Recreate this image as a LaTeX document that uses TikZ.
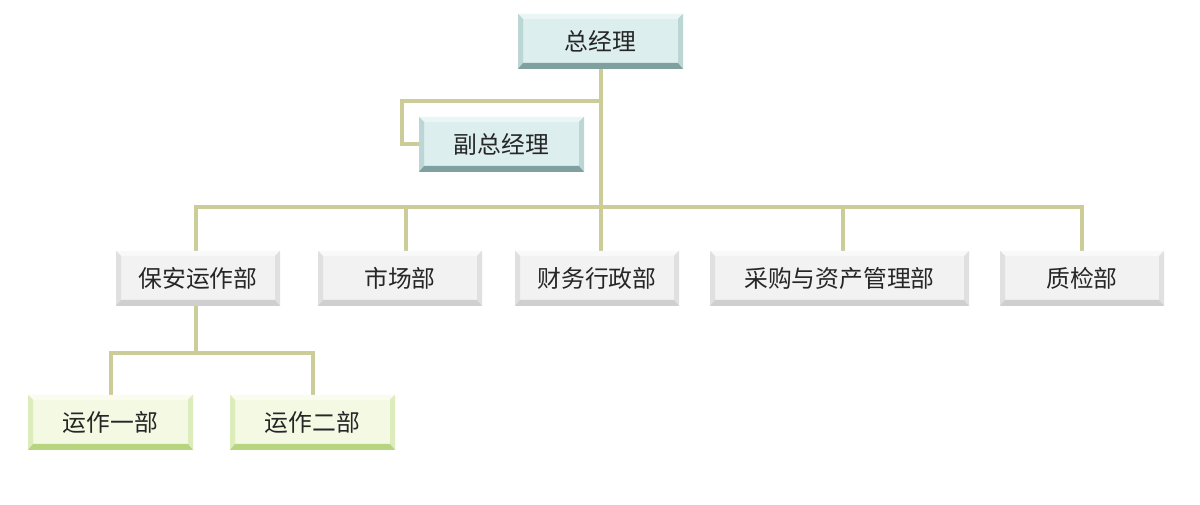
\documentclass[tikz,border=0pt]{standalone}
\usepackage{fontspec}
\setmainfont{Noto Sans CJK SC}
\usetikzlibrary{backgrounds}
\definecolor{conncol}{HTML}{CCCC99}
\definecolor{txtcol}{HTML}{262626}
\definecolor{tfill}{HTML}{DCEEEE}\definecolor{ttop}{HTML}{EAF5F5}\definecolor{tside}{HTML}{BCD6D6}\definecolor{tbot}{HTML}{80A0A0}
\definecolor{gfill}{HTML}{F2F2F2}\definecolor{gtop}{HTML}{F9F9F9}\definecolor{gside}{HTML}{E0E0E0}\definecolor{gbot}{HTML}{CFCFCF}
\definecolor{lfill}{HTML}{F4F9E4}\definecolor{ltop}{HTML}{FAFCF0}\definecolor{lside}{HTML}{DCECBA}\definecolor{lbot}{HTML}{B7D47F}
\tikzset{
  bev/.style n args={4}{fill=#1, minimum height=55pt, inner sep=0pt, text=txtcol,
    font=\fontsize{23.8}{28}\selectfont,
    path picture={
      \fill[#2] (path picture bounding box.north west) -- (path picture bounding box.north east)
        -- ([shift={(-5pt,-5pt)}]path picture bounding box.north east) -- ([shift={(5pt,-5pt)}]path picture bounding box.north west) -- cycle;
      \fill[#3] (path picture bounding box.north west) -- ([shift={(5pt,-5pt)}]path picture bounding box.north west)
        -- ([shift={(5pt,6pt)}]path picture bounding box.south west) -- (path picture bounding box.south west) -- cycle;
      \fill[#3] (path picture bounding box.north east) -- ([shift={(-5pt,-5pt)}]path picture bounding box.north east)
        -- ([shift={(-5pt,6pt)}]path picture bounding box.south east) -- (path picture bounding box.south east) -- cycle;
      \fill[#4] (path picture bounding box.south west) -- ([shift={(5pt,6pt)}]path picture bounding box.south west)
        -- ([shift={(-5pt,6pt)}]path picture bounding box.south east) -- (path picture bounding box.south east) -- cycle;
    }},
  tealbox/.style={bev={tfill}{ttop}{tside}{tbot}, minimum width=165pt},
  greybox/.style={bev={gfill}{gtop}{gside}{gbot}, minimum width=164pt},
  greenbox/.style={bev={lfill}{ltop}{lside}{lbot}, minimum width=165pt},
  conn/.style={draw=conncol, line width=4pt}
}
\begin{document}
\begin{tikzpicture}[x=1pt,y=1pt]
\useasboundingbox (0,0) rectangle (1200,505);
\node[tealbox] (zjl) at (600.5,463.5) {总经理};
\node[tealbox] (fzjl) at (501.5,360.5) {副总经理};
\node[greybox] (ba) at (198,226.5) {保安运作部};
\node[greybox] (sc) at (400,226.5) {市场部};
\node[greybox] (cw) at (597,226.5) {财务行政部};
\node[greybox, minimum width=259pt] (cg) at (839.5,226.5) {采购与资产管理部};
\node[greybox] (zj) at (1082,226.5) {质检部};
\node[greenbox] (y1) at (110.5,82.5) {运作一部};
\node[greenbox] (y2) at (312.5,82.5) {运作二部};
\coordinate (b1) at (600.5,404);
\coordinate (b2) at (402,404);
\coordinate (bus) at (600.5,298);
\coordinate (bus2) at (196,152);
\begin{scope}[on background layer]
\fill[white] (0,0) rectangle (1200,505);
\draw[conn] (zjl.south) -- (zjl.south |- cw.north);
\draw[conn] (b1) -- (b2) |- (fzjl.west);
\draw[conn] ([xshift=-2pt]ba.north) |- (bus) -| (zj.north);
\draw[conn] ([xshift=6pt]sc.north) -- ([xshift=6pt]sc.north |- bus);
\draw[conn] ([xshift=3.5pt]cg.north) -- ([xshift=3.5pt]cg.north |- bus);
\draw[conn] ([xshift=-2pt]ba.south) -- (bus2);
\draw[conn] (y1.north) |- (bus2) -| (y2.north);
\end{scope}
\end{tikzpicture}
\end{document}
